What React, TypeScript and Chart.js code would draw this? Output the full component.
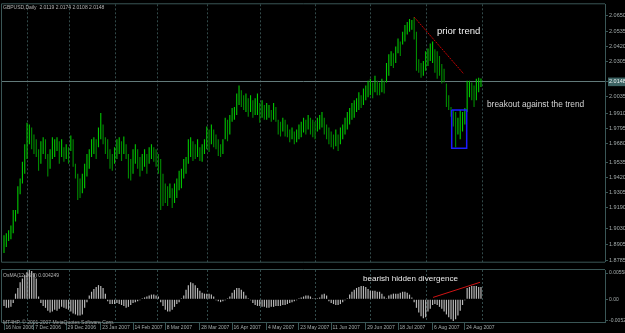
import React, { useEffect, useRef } from 'react';
import { Chart, registerables } from 'chart.js';
Chart.register(...registerables);

const symbolTitle = 'GBPUSD,Daily';
const titleOHLC = ['2.0119', '2.0174', '2.0108', '2.0148'];
const lastPrice = 2.0148;
const osmaTitle = 'OsMA(12,26,9) 0.004249';
const copyright = 'MT4HP, \u00a9 2001-2007 MetaQuotes Software Corp.';

const highs = [
  1.8979, 1.8993, 1.9016, 1.9053, 1.9172, 1.9172, 1.9352, 1.9411, 1.9538, 1.9672,
  1.9836, 1.9822, 1.9799, 1.9747, 1.9710, 1.9635, 1.9695, 1.9725, 1.9710, 1.9598,
  1.9635, 1.9725, 1.9710, 1.9725, 1.9695, 1.9710, 1.9650, 1.9672, 1.9650, 1.9739,
  1.9710, 1.9523, 1.9448, 1.9411, 1.9448, 1.9523, 1.9598, 1.9635, 1.9710, 1.9725,
  1.9710, 1.9799, 1.9911, 1.9822, 1.9725, 1.9710, 1.9635, 1.9598, 1.9650, 1.9710,
  1.9725, 1.9695, 1.9732, 1.9672, 1.9598, 1.9560, 1.9635, 1.9672, 1.9635, 1.9575,
  1.9598, 1.9635, 1.9598, 1.9650, 1.9672, 1.9650, 1.9635, 1.9598, 1.9560, 1.9448,
  1.9374, 1.9352, 1.9374, 1.9337, 1.9374, 1.9411, 1.9471, 1.9486, 1.9560, 1.9575,
  1.9710, 1.9725, 1.9695, 1.9672, 1.9710, 1.9650, 1.9672, 1.9710, 1.9807, 1.9784,
  1.9822, 1.9784, 1.9747, 1.9710, 1.9672, 1.9710, 1.9874, 1.9859, 1.9896, 1.9948,
  1.9956, 2.0060, 2.0120, 2.0083, 2.0045, 2.0060, 2.0023, 2.0045, 2.0008, 2.0023,
  2.0060, 1.9986, 2.0008, 1.9971, 1.9986, 1.9971, 1.9933, 1.9986, 1.9956, 1.9859,
  1.9844, 1.9874, 1.9859, 1.9822, 1.9784, 1.9799, 1.9769, 1.9784, 1.9822, 1.9844,
  1.9874, 1.9859, 1.9896, 1.9874, 1.9859, 1.9844, 1.9874, 1.9896, 1.9919, 1.9874,
  1.9822, 1.9799, 1.9769, 1.9747, 1.9784, 1.9747, 1.9799, 1.9822, 1.9874, 1.9919,
  1.9948, 1.9986, 2.0008, 2.0023, 2.0068, 2.0045, 2.0098, 2.0120, 2.0157, 2.0172,
  2.0142, 2.0194, 2.0157, 2.0142, 2.0172, 2.0157, 2.0291, 2.0359, 2.0381, 2.0366,
  2.0418, 2.0478, 2.0456, 2.0530, 2.0582, 2.0605, 2.0627, 2.0620, 2.0642, 2.0530,
  2.0321, 2.0291, 2.0306, 2.0381, 2.0403, 2.0441, 2.0456, 2.0396, 2.0381, 2.0344,
  2.0284, 2.0247, 2.0135, 2.0045, 1.9956, 1.9933, 1.9919, 1.9874, 1.9933, 1.9919,
  1.9948, 2.0157, 2.0157, 2.0142, 2.0120, 2.0172, 2.0180, 2.0174,
];

const lows = [
  1.8844, 1.8889, 1.8934, 1.8949, 1.8993, 1.9083, 1.9143, 1.9292, 1.9374, 1.9448,
  1.9560, 1.9672, 1.9635, 1.9598, 1.9575, 1.9471, 1.9523, 1.9598, 1.9560, 1.9426,
  1.9486, 1.9560, 1.9575, 1.9620, 1.9523, 1.9575, 1.9538, 1.9560, 1.9523, 1.9620,
  1.9501, 1.9411, 1.9247, 1.9262, 1.9299, 1.9337, 1.9426, 1.9486, 1.9575, 1.9598,
  1.9560, 1.9650, 1.9710, 1.9672, 1.9598, 1.9560, 1.9486, 1.9471, 1.9523, 1.9560,
  1.9598, 1.9545, 1.9598, 1.9560, 1.9411, 1.9396, 1.9448, 1.9523, 1.9486, 1.9426,
  1.9471, 1.9501, 1.9448, 1.9523, 1.9560, 1.9538, 1.9501, 1.9448, 1.9172, 1.9202,
  1.9225, 1.9202, 1.9262, 1.9187, 1.9225, 1.9262, 1.9322, 1.9337, 1.9411, 1.9448,
  1.9523, 1.9575, 1.9545, 1.9560, 1.9575, 1.9545, 1.9538, 1.9598, 1.9635, 1.9613,
  1.9672, 1.9650, 1.9635, 1.9583, 1.9575, 1.9598, 1.9710, 1.9695, 1.9747, 1.9844,
  1.9859, 1.9896, 1.9971, 1.9956, 1.9933, 1.9919, 1.9881, 1.9919, 1.9874, 1.9896,
  1.9896, 1.9836, 1.9874, 1.9859, 1.9859, 1.9874, 1.9844, 1.9859, 1.9844, 1.9747,
  1.9732, 1.9769, 1.9732, 1.9725, 1.9687, 1.9710, 1.9672, 1.9687, 1.9710, 1.9725,
  1.9762, 1.9747, 1.9784, 1.9747, 1.9725, 1.9710, 1.9769, 1.9784, 1.9799, 1.9747,
  1.9710, 1.9672, 1.9650, 1.9635, 1.9657, 1.9620, 1.9672, 1.9710, 1.9747, 1.9784,
  1.9822, 1.9859, 1.9874, 1.9919, 1.9933, 1.9948, 1.9971, 2.0008, 2.0030, 2.0045,
  2.0023, 2.0068, 2.0045, 2.0045, 2.0068, 2.0060, 2.0142, 2.0194, 2.0269, 2.0254,
  2.0291, 2.0366, 2.0344, 2.0433, 2.0456, 2.0508, 2.0530, 2.0545, 2.0470, 2.0232,
  2.0217, 2.0180, 2.0194, 2.0232, 2.0269, 2.0306, 2.0291, 2.0217, 2.0172, 2.0194,
  2.0135, 2.0142, 1.9956, 1.9933, 1.9881, 1.9807, 1.9650, 1.9747, 1.9710, 1.9769,
  1.9822, 1.9919, 2.0030, 2.0008, 1.9956, 2.0008, 2.0068, 2.0108,
];

const osma = [
  -0.00126, -0.00162, -0.00162, -0.00144, -0.00072, 0.00108, 0.00216, 0.00324, 0.00396, 0.00468,
  0.00522, 0.00558, 0.0054, 0.00486, 0.00396, 0.00054, -0.00072, -0.00126, -0.00162, -0.00216,
  -0.00252, -0.00234, -0.00198, -0.00216, -0.0018, -0.00144, -0.00162, -0.0018, -0.00198, -0.00234,
  -0.0027, -0.00288, -0.00306, -0.00306, -0.00288, -0.00162, -0.00054, 0.00072, 0.00144, 0.00198,
  0.00234, 0.0027, 0.00252, 0.00216, 0.00108, -0.00036, -0.0009, -0.0009, -0.0009, -0.00072,
  -0.0009, -0.00108, -0.00126, -0.00162, -0.00144, -0.00108, -0.00072, -0.00054, -0.00036, -0.00018,
  0.00018, 0.00036, 0.00054, 0.00072, 0.0009, 0.0009, 0.00072, 0.00054, -0.00054, -0.00126,
  -0.00198, -0.00234, -0.00234, -0.00198, -0.00144, -0.0009, -0.00054, 0.00018, 0.00072, 0.0018,
  0.0027, 0.00324, 0.00306, 0.0027, 0.00216, 0.00162, 0.00126, 0.00108, 0.00108, 0.00108,
  0.0009, 0.00054, -0.00018, -0.00036, -0.00054, -0.00036, -0.00018, 0.00018, 0.00054, 0.00126,
  0.0018, 0.00216, 0.00216, 0.0018, 0.00144, 0.00072, 0.00018, -0.00018, -0.00072, -0.00108,
  -0.00126, -0.00126, -0.00144, -0.00144, -0.00162, -0.00162, -0.00144, -0.00144, -0.00126, -0.00126,
  -0.00126, -0.00108, -0.00108, -0.0009, -0.00072, -0.00054, -0.00036, -0.00018, 0.00018, 0.00036,
  0.00054, 0.00072, 0.00072, 0.00054, 0.00018, 0.00018, 0.00018, 0.00036, 0.0009, 0.00108,
  0.00072, -0.00036, -0.00072, -0.0009, -0.00108, -0.00108, -0.0009, -0.00054, -0.00018, 0.00018,
  0.0009, 0.00144, 0.0018, 0.00216, 0.00234, 0.00252, 0.00252, 0.00234, 0.00198, 0.00162,
  0.00162, 0.00162, 0.00144, 0.00144, 0.00108, 0.00054, 0.00018, 0.00072, 0.0009, 0.00108,
  0.00108, 0.00108, 0.00126, 0.00144, 0.00144, 0.00126, 0.0009, 0.00036, -0.00054, -0.00162,
  -0.00252, -0.00324, -0.0036, -0.00342, -0.00234, -0.0018, -0.00108, -0.0009, -0.00108, -0.00144,
  -0.0018, -0.00234, -0.00288, -0.00342, -0.00378, -0.00414, -0.00378, -0.00306, -0.00216, -0.00108,
  -0.00018, 0.00216, 0.00234, 0.00252, 0.00252, 0.00252, 0.00234, 0.00234,
];

const priceTicks = [2.0650, 2.0535, 2.0420, 2.0305, 2.0148, 2.0035, 1.9910, 1.9795, 1.9680, 1.9535, 1.9420, 1.9305, 1.9190, 1.9030, 1.8905, 1.8785];
const osmaTickValues = [0.0050, 0, -0.0041];
const osmaTickLabels = ['0.005588', '0.00', '-0.00524'];

const dateLabels = ['16 Nov 2006', '7 Dec 2006', '29 Dec 2006', '23 Jan 2007', '14 Feb 2007', '8 Mar 2007', '28 Mar 2007', '16 Apr 2007', '4 May 2007', '23 May 2007', '11 Jun 2007', '29 Jun 2007', '18 Jul 2007', '6 Aug 2007', '24 Aug 2007'];
const dateLabelBars = [0, 13, 27, 42, 56, 70, 85, 99, 114, 128, 142, 157, 171, 186, 200];
const monthGridBars = [10, 28.6, 48.6, 66.4, 88.1, 111.5, 135.3, 159.2, 183.2, 207.5];

const trendX = [178, 199.5];
const trendY = [2.0642, 2.0209];
const boxX = [194.3, 200.8];
const boxY = [1.9933, 1.9642];
const divX = [186.2, 206.6];
const divY = [0.00036, 0.00324];

const X_MIN = -0.87;
const X_MAX = 260.83;
const FONT = '"Liberation Sans", Arial, sans-serif';
const FRAME = '#3a5656';
const AXIS_TEXT = '#a4acac';
const UP = '#00c800';
const DOWN = '#008c00';

const framePlugin = {
  id: 'frame',
  beforeDatasetsDraw(chart: any) {
    const { ctx, chartArea } = chart;
    ctx.save();
    ctx.strokeStyle = FRAME;
    ctx.lineWidth = 1;
    ctx.beginPath();
    ctx.moveTo(chartArea.right, chartArea.top - 0.5);
    ctx.lineTo(chartArea.left - 0.5, chartArea.top - 0.5);
    ctx.lineTo(chartArea.left - 0.5, chartArea.bottom + 0.5);
    ctx.lineTo(chartArea.right, chartArea.bottom + 0.5);
    ctx.stroke();
    ctx.restore();
  },
};

const notesPlugin = {
  id: 'notes',
  afterDatasetsDraw(chart: any, _args: any, opts: any) {
    const items = (opts && opts.items) || [];
    const { ctx, chartArea } = chart;
    const xs = chart.scales.x;
    const ys = chart.scales.y;
    ctx.save();
    for (const it of items) {
      ctx.font = `${it.size}px ${FONT}`;
      ctx.fillStyle = it.color;
      ctx.textAlign = 'left';
      ctx.textBaseline = 'middle';
      const px = it.px !== undefined ? chartArea.left + it.px : xs.getPixelForValue(it.x);
      const py = it.py !== undefined ? chartArea.top + it.py : ys.getPixelForValue(it.y);
      ctx.fillText(it.text, px, py);
    }
    ctx.restore();
  },
};

function barColor(ctx: any) {
  const i = ctx.dataIndex;
  if (i === undefined || i === 0) return UP;
  const mid = highs[i] + lows[i];
  const prev = highs[i - 1] + lows[i - 1];
  return mid >= prev ? UP : DOWN;
}

function gridXAxis(extra: any = {}) {
  return {
    type: 'linear',
    min: X_MIN,
    max: X_MAX,
    offset: false,
    position: 'bottom',
    afterBuildTicks: (s: any) => { s.ticks = monthGridBars.map((v) => ({ value: v })); },
    afterFit: (s: any) => { s.height = 0; },
    ticks: { display: false },
    grid: { display: true, offset: false, drawOnChartArea: true, drawTicks: false, color: '#324a4a', lineWidth: 1 },
    border: { display: false, dash: [2, 2] },
    ...extra,
  };
}

export default function App() {
  const mainRef = useRef<HTMLCanvasElement>(null);
  const oscRef = useRef<HTMLCanvasElement>(null);

  useEffect(() => {
    const bars = highs.map((h, i) => ({ x: i, y: [lows[i], h] }));
    const hist = osma.map((v, i) => ({ x: i, y: [0, v] }));
    const trend = trendX.map((x, i) => ({ x, y: trendY[i] }));
    const box = [
      { x: boxX[0], y: boxY[0] },
      { x: boxX[1], y: boxY[0] },
      { x: boxX[1], y: boxY[1] },
      { x: boxX[0], y: boxY[1] },
      { x: boxX[0], y: boxY[0] },
    ];
    const div = divX.map((x, i) => ({ x, y: divY[i] }));

    const main = new Chart(mainRef.current as HTMLCanvasElement, {
      type: 'bar',
      data: {
        datasets: [
          {
            type: 'bar',
            data: bars as any,
            backgroundColor: barColor as any,
            barThickness: 1.1,
            borderWidth: 0,
            inflateAmount: 0,
            grouped: false,
            order: 2,
          } as any,
          {
            type: 'line',
            data: trend as any,
            borderColor: '#c80000',
            borderWidth: 1,
            borderDash: [2, 1],
            pointRadius: 0,
            fill: false,
            order: 1,
          } as any,
          {
            type: 'line',
            data: box as any,
            borderColor: '#1c1cff',
            borderWidth: 1.5,
            pointRadius: 0,
            fill: false,
            tension: 0,
            order: 1,
          } as any,
        ],
      },
      options: {
        responsive: false,
        animation: false,
        events: [],
        layout: { padding: { left: 2, top: 2, right: 0, bottom: 1 }, autoPadding: false } as any,
        plugins: {
          legend: { display: false },
          tooltip: { enabled: false },
          notes: {
            items: [
              { text: symbolTitle + '  ' + titleOHLC.join(' '), px: 1, py: 3.8, size: 5, color: '#b4b4b4' },
              { text: 'prior trend', x: 187.9, y: 2.0536, size: 9.5, color: '#f2f2f2' },
              { text: 'breakout against the trend', x: 209.6, y: 1.9973, size: 8.4, color: '#d4d4d4' },
            ],
          },
        } as any,
        scales: {
          x: gridXAxis(),
          y: {
            type: 'linear',
            position: 'right',
            min: 1.8777,
            max: 2.0739,
            afterBuildTicks: (s: any) => { s.ticks = priceTicks.map((v) => ({ value: v })); },
            afterFit: (s: any) => { s.width = 20; },
            ticks: {
              autoSkip: false,
              padding: 1,
              font: { family: FONT, size: 5.5 },
              color: (c: any) => (c.tick && c.tick.value === lastPrice ? '#eef4f4' : AXIS_TEXT),
              showLabelBackdrop: (c: any) => !!(c.tick && c.tick.value === lastPrice),
              backdropColor: '#3d6464',
              backdropPadding: { top: 1, bottom: 1, left: 1, right: 2 },
              callback: (v: any) => Number(v).toFixed(4),
            },
            grid: {
              display: true,
              drawOnChartArea: true,
              color: (c: any) => (c.tick && c.tick.value === lastPrice ? '#627a7a' : 'rgba(0,0,0,0)'),
              tickColor: FRAME,
              tickLength: 3,
              lineWidth: 1,
            },
            border: { display: true, color: FRAME, width: 1 },
          } as any,
        } as any,
      },
      plugins: [framePlugin, notesPlugin],
    } as any);

    const osc = new Chart(oscRef.current as HTMLCanvasElement, {
      type: 'bar',
      data: {
        datasets: [
          {
            type: 'bar',
            data: hist as any,
            backgroundColor: '#b8b8b8',
            barThickness: 1.2,
            borderWidth: 0,
            inflateAmount: 0,
            grouped: false,
            order: 2,
          } as any,
          {
            type: 'line',
            data: div as any,
            borderColor: '#d01414',
            borderWidth: 1,
            pointRadius: 0,
            fill: false,
            order: 1,
          } as any,
        ],
      },
      options: {
        responsive: false,
        animation: false,
        events: [],
        layout: { padding: { left: 2, top: 1, right: 0, bottom: 0 }, autoPadding: false } as any,
        plugins: {
          legend: { display: false },
          tooltip: { enabled: false },
          notes: {
            items: [
              { text: osmaTitle, px: 1, py: 5.7, size: 5, color: '#b4b4b4' },
              { text: copyright, px: 1, py: 53, size: 5, color: '#a4a4a4' },
              { text: 'bearish hidden divergence', x: 155.8, y: 0.00396, size: 8.1, color: '#ececec' },
            ],
          },
        } as any,
        scales: {
          x: {
            type: 'linear',
            min: X_MIN,
            max: X_MAX,
            offset: false,
            position: 'bottom',
            afterBuildTicks: (s: any) => { s.ticks = dateLabelBars.map((v) => ({ value: v })); },
            afterFit: (s: any) => { s.height = 11; },
            ticks: {
              autoSkip: false,
              maxRotation: 0,
              minRotation: 0,
              align: 'start',
              padding: -5,
              font: { family: FONT, size: 5 },
              color: AXIS_TEXT,
              callback: (_v: any, i: number) => ' ' + dateLabels[i],
            },
            grid: { display: true, offset: false, drawOnChartArea: false, color: FRAME, tickLength: 8 },
            border: { display: false },
          } as any,
          xg: gridXAxis(),
          y: {
            type: 'linear',
            position: 'right',
            min: -0.00432,
            max: 0.00558,
            afterBuildTicks: (s: any) => { s.ticks = osmaTickValues.map((v) => ({ value: v })); },
            afterFit: (s: any) => { s.width = 20; },
            ticks: {
              autoSkip: false,
              padding: 1,
              font: { family: FONT, size: 5 },
              color: AXIS_TEXT,
              callback: (_v: any, i: number) => osmaTickLabels[i],
            },
            grid: { display: true, drawOnChartArea: false, color: FRAME, tickLength: 3 },
            border: { display: true, color: FRAME, width: 1 },
          } as any,
        } as any,
      },
      plugins: [framePlugin, notesPlugin],
    } as any);

    return () => {
      main.destroy();
      osc.destroy();
    };
  }, []);

  return (
    <div style={{ position: 'fixed', left: 0, top: 0, width: 625, height: 333, background: '#000', overflow: 'hidden' }}>
      <canvas ref={mainRef} width={625} height={266} style={{ position: 'absolute', left: 0, top: 0, width: 625, height: 266 }} />
      <canvas ref={oscRef} width={625} height={67} style={{ position: 'absolute', left: 0, top: 266, width: 625, height: 67 }} />
    </div>
  );
}
